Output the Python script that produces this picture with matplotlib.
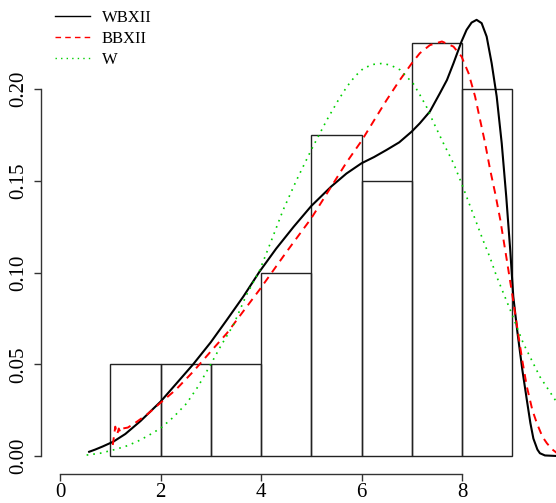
import matplotlib
matplotlib.use('Agg')
import matplotlib.pyplot as plt
import numpy as np

# histogram (density, bin width 1)
bin_edges = [1, 2, 3, 4, 5, 6, 7, 8, 9]
densities = [0.05, 0.05, 0.05, 0.10, 0.175, 0.15, 0.225, 0.20]

# fitted densities
wbxii_x = [0.58, 0.7, 0.85, 1.06, 1.3, 1.6, 2.0, 2.3, 2.65, 3.0, 3.32, 3.65,
           3.97, 4.3, 4.65, 5.0, 5.4, 5.7, 6.0, 6.25, 6.5, 6.75, 7.0, 7.16,
           7.36, 7.56, 7.7, 7.83, 7.99, 8.09, 8.19, 8.29, 8.39, 8.49, 8.59,
           8.69, 8.79, 8.88, 8.96, 9.02, 9.1, 9.2, 9.29, 9.36, 9.42, 9.5,
           9.55, 9.65, 9.88]
wbxii_y = [0.0023, 0.0035, 0.0052, 0.0078, 0.012, 0.019, 0.0296, 0.039,
           0.050, 0.062, 0.0742, 0.087, 0.1005, 0.113, 0.125, 0.1363, 0.147,
           0.154, 0.1596, 0.163, 0.1669, 0.171, 0.1769, 0.1814, 0.1878, 0.1978,
           0.205, 0.2141, 0.226, 0.2323, 0.2363, 0.2378, 0.236, 0.2287, 0.2141,
           0.196, 0.1705, 0.1414, 0.112, 0.087, 0.068, 0.047, 0.0305, 0.018,
           0.0095, 0.0035, 0.0015, 0.0003, 0.0]

bbxii_x = [1.05, 1.08, 1.10, 1.12, 1.14, 1.17, 1.20, 1.25, 1.35, 1.53, 1.75,
           2.0, 2.3, 2.65, 3.0, 3.32, 3.65, 3.98, 4.5, 5.0, 5.44, 5.7, 6.0,
           6.25, 6.5, 6.75, 7.0, 7.16, 7.36, 7.6, 7.83, 7.99, 8.13, 8.26, 8.36,
           8.46, 8.56, 8.66, 8.76, 8.89, 9.0, 9.09, 9.2, 9.29, 9.4, 9.49, 9.6,
           9.69, 9.8, 9.88]
bbxii_y = [0.006, 0.012, 0.016, 0.013, 0.012, 0.015, 0.013, 0.015, 0.0155,
           0.0187, 0.023, 0.029, 0.036, 0.046, 0.057, 0.0669, 0.079, 0.091,
           0.111, 0.1296, 0.1487, 0.160, 0.1718, 0.183, 0.1941, 0.2045, 0.2141,
           0.2196, 0.224, 0.226, 0.2232, 0.2178, 0.2087, 0.196, 0.1832, 0.1705,
           0.156, 0.1432, 0.129, 0.107, 0.088, 0.0715, 0.052, 0.0378, 0.025,
           0.0178, 0.0105, 0.0069, 0.0035, 0.0018]

w_x = [0.53, 0.8, 1.06, 1.3, 1.53, 1.75, 2.0, 2.25, 2.52, 2.75, 3.0, 3.2,
       3.45, 3.71, 3.97, 4.2, 4.44, 4.7, 5.0, 5.31, 5.54, 5.71, 5.87, 6.04,
       6.23, 6.43, 6.6, 6.77, 7.03, 7.16, 7.3, 7.43, 7.63, 7.83, 7.99, 8.09,
       8.29, 8.42, 8.56, 8.69, 8.96, 9.22, 9.55, 9.88]
w_y = [0.0005, 0.0015, 0.0033, 0.0052, 0.0078, 0.011, 0.0151, 0.021, 0.0287,
       0.038, 0.050, 0.060, 0.0714, 0.0878, 0.101, 0.117, 0.1341, 0.150,
       0.1669, 0.1832, 0.1941, 0.2014, 0.207, 0.2114, 0.2135, 0.2141, 0.2128,
       0.2105, 0.203, 0.197, 0.190, 0.182, 0.1705, 0.1596, 0.1487, 0.1414,
       0.127, 0.1175, 0.108, 0.0978, 0.0796, 0.0614, 0.0432, 0.0295]

x_ticks = [0, 2, 4, 6, 8]
y_ticks = [0.00, 0.05, 0.10, 0.15, 0.20]
y_ticklabels = ['0.00', '0.05', '0.10', '0.15', '0.20']

plt.rcParams['font.family'] = ['Liberation Serif', 'DejaVu Serif']

fig = plt.figure(figsize=(5.56, 5.03), dpi=100)
ax = fig.add_axes([40.9 / 556, 29.4 / 503, 515.6 / 556, 475.4 / 503])

ax.hist(bin_edges[:-1], bins=bin_edges, weights=densities,
        facecolor='none', edgecolor='#222222', linewidth=1.0)

ax.plot(wbxii_x, wbxii_y, color='black', lw=1.5, label='WBXII')
ax.plot(bbxii_x, bbxii_y, color='red', lw=1.4, dashes=(4, 3), label='BBXII')
ax.plot(w_x, w_y, color='#00d000', lw=1.2, dashes=(1, 3), label='W')

ax.set_xlim(-0.38, 9.88)
ax.set_ylim(-0.0096, 0.2496)

for side in ['top', 'right']:
    ax.spines[side].set_visible(False)
ax.spines['left'].set_bounds(0, 0.2)
ax.spines['bottom'].set_bounds(0, 8)
for side in ['left', 'bottom']:
    ax.spines[side].set_color('#333333')
    ax.spines[side].set_linewidth(1.0)

ax.set_xticks(x_ticks)
ax.set_xticklabels([str(t) for t in x_ticks])
ax.set_yticks(y_ticks)
ax.set_yticklabels(y_ticklabels, rotation=90, va='center')
ax.tick_params(axis='both', length=5, width=1.0, color='#333333',
               labelsize=15, pad=2)
ax.tick_params(axis='y', pad=4)

leg = ax.legend(loc='upper left', bbox_to_anchor=(45 / 556, 1.0),
                bbox_transform=fig.transFigure, frameon=False, fontsize=12,
                handlelength=2.1, handletextpad=0.7, labelspacing=0.3,
                borderaxespad=0.2)
for line in leg.get_lines():
    line.set_linewidth(1.0)

fig.savefig('out.png', dpi=100)
